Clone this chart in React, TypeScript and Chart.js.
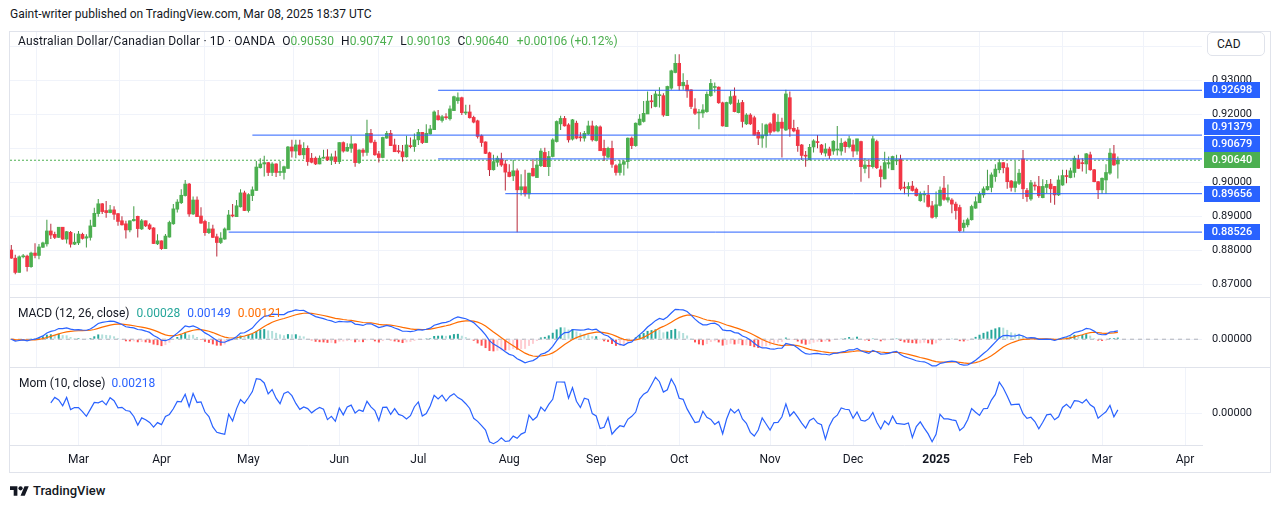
import React, { useEffect, useRef } from 'react';
import { Chart, registerables } from 'chart.js';

Chart.register(...registerables);

// ---------------- data (AUD/CAD, 1D, OANDA) ----------------
const firstDate = '2024-02-07';
const holidays = ['2024-12-25', '2025-01-01'];
const futureBars = 25;

const opens = [
  0.8800, 0.8776, 0.8734, 0.8780, 0.8782, 0.8751, 0.8791, 0.8784, 0.8808, 0.8818,
  0.8856, 0.8846, 0.8837, 0.8867, 0.8832, 0.8852, 0.8817, 0.8821, 0.8846, 0.8835,
  0.8837, 0.8869, 0.8907, 0.8936, 0.8916, 0.8910, 0.8918, 0.8907, 0.8886, 0.8877,
  0.8859, 0.8886, 0.8899, 0.8862, 0.8886, 0.8874, 0.8865, 0.8818, 0.8827, 0.8804,
  0.8838, 0.8877, 0.8920, 0.8939, 0.8960, 0.8994, 0.8906, 0.8947, 0.8900, 0.8884,
  0.8851, 0.8862, 0.8839, 0.8822, 0.8832, 0.8859, 0.8903, 0.8898, 0.8927, 0.8968,
  0.8916, 0.8960, 0.8975, 0.9042, 0.9053, 0.9057, 0.9028, 0.9053, 0.9028, 0.9028,
  0.9040, 0.9103, 0.9091, 0.9109, 0.9080, 0.9099, 0.9070, 0.9070, 0.9053, 0.9070,
  0.9074, 0.9064, 0.9074, 0.9060, 0.9116, 0.9091, 0.9099, 0.9112, 0.9057, 0.9094,
  0.9087, 0.9143, 0.9117, 0.9083, 0.9072, 0.9129, 0.9143, 0.9109, 0.9091, 0.9089,
  0.9074, 0.9107, 0.9104, 0.9124, 0.9146, 0.9116, 0.9141, 0.9154, 0.9195, 0.9181,
  0.9191, 0.9186, 0.9210, 0.9239, 0.9248, 0.9203, 0.9206, 0.9190, 0.9180, 0.9136,
  0.9118, 0.9086, 0.9036, 0.9058, 0.9068, 0.9053, 0.9029, 0.9018, 0.9033, 0.8977,
  0.8986, 0.8965, 0.9040, 0.9013, 0.9048, 0.9087, 0.9045, 0.9075, 0.9119, 0.9171,
  0.9187, 0.9168, 0.9126, 0.9173, 0.9132, 0.9129, 0.9141, 0.9165, 0.9122, 0.9162,
  0.9099, 0.9073, 0.9099, 0.9048, 0.9028, 0.9052, 0.9060, 0.9129, 0.9107, 0.9168,
  0.9178, 0.9200, 0.9238, 0.9222, 0.9254, 0.9254, 0.9195, 0.9276, 0.9322, 0.9349,
  0.9283, 0.9285, 0.9271, 0.9215, 0.9203, 0.9203, 0.9207, 0.9254, 0.9278, 0.9279,
  0.9233, 0.9163, 0.9231, 0.9253, 0.9204, 0.9234, 0.9171, 0.9197, 0.9189, 0.9146,
  0.9129, 0.9136, 0.9171, 0.9200, 0.9150, 0.9176, 0.9153, 0.9248, 0.9158, 0.9153,
  0.9109, 0.9078, 0.9065, 0.9103, 0.9118, 0.9109, 0.9085, 0.9097, 0.9091, 0.9094,
  0.9091, 0.9117, 0.9104, 0.9109, 0.9091, 0.9119, 0.9040, 0.9048, 0.9045, 0.9119,
  0.9036, 0.9009, 0.9053, 0.9036, 0.9062, 0.9067, 0.8984, 0.8980, 0.8988, 0.8979,
  0.8945, 0.8962, 0.8962, 0.8930, 0.8898, 0.8931, 0.8982, 0.8947, 0.8947, 0.8935,
  0.8925, 0.8866, 0.8874, 0.8889, 0.8923, 0.8939, 0.8962, 0.8977, 0.8984, 0.9016,
  0.9036, 0.9057, 0.9042, 0.9003, 0.8984, 0.8996, 0.9068, 0.8975, 0.8950, 0.8991,
  0.8987, 0.8954, 0.8984, 0.8994, 0.8987, 0.8962, 0.8991, 0.9019, 0.9013, 0.9028,
  0.9066, 0.9056, 0.9053, 0.9080, 0.9036, 0.9001, 0.8977, 0.9006, 0.9026, 0.9083,
  0.90530,
];
const highs = [
  0.8815, 0.8786, 0.8784, 0.8788, 0.8786, 0.8795, 0.8820, 0.8818, 0.8824, 0.8889,
  0.8877, 0.8854, 0.8867, 0.8868, 0.8856, 0.8856, 0.8849, 0.8856, 0.8851, 0.8846,
  0.8889, 0.8924, 0.8950, 0.8938, 0.8944, 0.8932, 0.8929, 0.8909, 0.8899, 0.8886,
  0.8887, 0.8929, 0.8901, 0.8891, 0.8887, 0.8879, 0.8867, 0.8846, 0.8828, 0.8847,
  0.8886, 0.8935, 0.8949, 0.8979, 0.9006, 0.8997, 0.8957, 0.8957, 0.8926, 0.8889,
  0.8882, 0.8874, 0.8848, 0.8852, 0.8866, 0.8918, 0.8935, 0.8947, 0.8979, 0.8974,
  0.8967, 0.8987, 0.9062, 0.9070, 0.9077, 0.9059, 0.9058, 0.9055, 0.9062, 0.9048,
  0.9106, 0.9124, 0.9124, 0.9124, 0.9117, 0.9107, 0.9085, 0.9075, 0.9078, 0.9095,
  0.9096, 0.9084, 0.9092, 0.9117, 0.9119, 0.9114, 0.9136, 0.9114, 0.9096, 0.9099,
  0.9183, 0.9156, 0.9124, 0.9091, 0.9133, 0.9150, 0.9153, 0.9127, 0.9109, 0.9109,
  0.9136, 0.9131, 0.9143, 0.9156, 0.9147, 0.9170, 0.9168, 0.9210, 0.9212, 0.9197,
  0.9202, 0.9225, 0.9254, 0.9263, 0.9251, 0.9227, 0.9227, 0.9195, 0.9183, 0.9140,
  0.9119, 0.9089, 0.9080, 0.9077, 0.9086, 0.9065, 0.9052, 0.9065, 0.9040, 0.9023,
  0.9036, 0.9027, 0.9067, 0.9070, 0.9099, 0.9101, 0.9091, 0.9129, 0.9181, 0.9195,
  0.9194, 0.9173, 0.9185, 0.9180, 0.9146, 0.9150, 0.9180, 0.9180, 0.9168, 0.9166,
  0.9124, 0.9104, 0.9121, 0.9052, 0.9065, 0.9065, 0.9131, 0.9134, 0.9175, 0.9199,
  0.9238, 0.9266, 0.9256, 0.9268, 0.9279, 0.9261, 0.9283, 0.9330, 0.9376, 0.9376,
  0.9320, 0.9300, 0.9273, 0.9246, 0.9215, 0.9229, 0.9266, 0.9303, 0.9293, 0.9281,
  0.9236, 0.9236, 0.9268, 0.9278, 0.9243, 0.9241, 0.9202, 0.9202, 0.9195, 0.9153,
  0.9173, 0.9171, 0.9176, 0.9204, 0.9199, 0.9189, 0.9271, 0.9266, 0.9183, 0.9162,
  0.9112, 0.9091, 0.9112, 0.9126, 0.9138, 0.9112, 0.9114, 0.9104, 0.9123, 0.9165,
  0.9129, 0.9121, 0.9136, 0.9124, 0.9127, 0.9121, 0.9070, 0.9067, 0.9136, 0.9124,
  0.9048, 0.9089, 0.9075, 0.9077, 0.9080, 0.9080, 0.9001, 0.8999, 0.9003, 0.8984,
  0.8972, 0.8974, 0.8991, 0.8944, 0.8972, 0.8987, 0.9018, 0.8993, 0.8952, 0.8942,
  0.8933, 0.8889, 0.8895, 0.8933, 0.8957, 0.8972, 0.8987, 0.9036, 0.9028, 0.9052,
  0.9067, 0.9058, 0.9055, 0.9006, 0.9062, 0.9038, 0.9094, 0.8982, 0.9006, 0.9001,
  0.9018, 0.9008, 0.9006, 0.9009, 0.8988, 0.9019, 0.9036, 0.9036, 0.9042, 0.9077,
  0.9080, 0.9070, 0.9085, 0.9089, 0.9038, 0.9003, 0.9013, 0.9052, 0.9099, 0.9109,
  0.90747,
];
const lows = [
  0.8774, 0.8729, 0.8733, 0.8776, 0.8737, 0.8748, 0.8776, 0.8773, 0.8806, 0.8810,
  0.8832, 0.8832, 0.8835, 0.8830, 0.8819, 0.8807, 0.8815, 0.8815, 0.8831, 0.8807,
  0.8828, 0.8868, 0.8898, 0.8906, 0.8895, 0.8908, 0.8889, 0.8871, 0.8872, 0.8834,
  0.8852, 0.8884, 0.8837, 0.8859, 0.8868, 0.8859, 0.8818, 0.8815, 0.8801, 0.8803,
  0.8837, 0.8874, 0.8910, 0.8935, 0.8957, 0.8898, 0.8903, 0.8897, 0.8877, 0.8842,
  0.8847, 0.8835, 0.8781, 0.8818, 0.8830, 0.8859, 0.8896, 0.8897, 0.8925, 0.8915,
  0.8910, 0.8944, 0.8974, 0.9040, 0.9016, 0.9018, 0.9018, 0.9015, 0.9018, 0.9007,
  0.9038, 0.9072, 0.9070, 0.9078, 0.9068, 0.9048, 0.9055, 0.9050, 0.9052, 0.9069,
  0.9062, 0.9050, 0.9053, 0.9053, 0.9087, 0.9089, 0.9086, 0.9045, 0.9053, 0.9075,
  0.9077, 0.9114, 0.9077, 0.9057, 0.9070, 0.9127, 0.9106, 0.9089, 0.9084, 0.9060,
  0.9072, 0.9099, 0.9089, 0.9109, 0.9112, 0.9115, 0.9140, 0.9153, 0.9181, 0.9175,
  0.9183, 0.9181, 0.9209, 0.9230, 0.9197, 0.9197, 0.9187, 0.9173, 0.9128, 0.9104,
  0.9082, 0.9018, 0.9034, 0.9045, 0.9045, 0.8975, 0.9014, 0.9003, 0.8852, 0.8960,
  0.8957, 0.8951, 0.9016, 0.9013, 0.9044, 0.9044, 0.9018, 0.9073, 0.9116, 0.9153,
  0.9163, 0.9116, 0.9122, 0.9126, 0.9119, 0.9119, 0.9138, 0.9119, 0.9119, 0.9091,
  0.9062, 0.9070, 0.9042, 0.9019, 0.9019, 0.9019, 0.9040, 0.9097, 0.9104, 0.9166,
  0.9175, 0.9200, 0.9217, 0.9220, 0.9219, 0.9192, 0.9195, 0.9271, 0.9320, 0.9269,
  0.9271, 0.9248, 0.9215, 0.9197, 0.9155, 0.9189, 0.9204, 0.9251, 0.9263, 0.9230,
  0.9163, 0.9163, 0.9227, 0.9205, 0.9202, 0.9160, 0.9168, 0.9168, 0.9136, 0.9109,
  0.9101, 0.9101, 0.9138, 0.9146, 0.9146, 0.9072, 0.9150, 0.9133, 0.9146, 0.9089,
  0.9065, 0.9045, 0.9065, 0.9087, 0.9099, 0.9080, 0.9075, 0.9068, 0.9080, 0.9078,
  0.9078, 0.9086, 0.9099, 0.9073, 0.9080, 0.9001, 0.9026, 0.9011, 0.9040, 0.9038,
  0.8984, 0.9008, 0.9040, 0.9036, 0.9050, 0.8975, 0.8964, 0.8957, 0.8972, 0.8957,
  0.8942, 0.8940, 0.8925, 0.8893, 0.8893, 0.8928, 0.8945, 0.8940, 0.8908, 0.8890,
  0.8852, 0.8854, 0.8867, 0.8887, 0.8921, 0.8938, 0.8954, 0.8975, 0.8970, 0.9001,
  0.9026, 0.9026, 0.8980, 0.8972, 0.8970, 0.8991, 0.8950, 0.8942, 0.8945, 0.8975,
  0.8954, 0.8952, 0.8967, 0.8939, 0.8933, 0.8959, 0.8989, 0.8996, 0.9011, 0.9013,
  0.9038, 0.9031, 0.9024, 0.9033, 0.8999, 0.8950, 0.8965, 0.8965, 0.9021, 0.9048,
  0.90103,
];
const closes = [
  0.8776, 0.8734, 0.8780, 0.8782, 0.8751, 0.8791, 0.8784, 0.8809, 0.8821, 0.8856,
  0.8844, 0.8837, 0.8867, 0.8832, 0.8854, 0.8817, 0.8823, 0.8847, 0.8834, 0.8839,
  0.8871, 0.8908, 0.8936, 0.8913, 0.8910, 0.8918, 0.8905, 0.8884, 0.8874, 0.8859,
  0.8886, 0.8890, 0.8863, 0.8886, 0.8871, 0.8862, 0.8819, 0.8827, 0.8804, 0.8841,
  0.8881, 0.8921, 0.8941, 0.8961, 0.8994, 0.8906, 0.8947, 0.8898, 0.8879, 0.8851,
  0.8862, 0.8837, 0.8822, 0.8835, 0.8862, 0.8903, 0.8900, 0.8930, 0.8968, 0.8916,
  0.8963, 0.8977, 0.9044, 0.9053, 0.9057, 0.9028, 0.9053, 0.9028, 0.9031, 0.9045,
  0.9103, 0.9091, 0.9109, 0.9080, 0.9099, 0.9060, 0.9058, 0.9053, 0.9070, 0.9073,
  0.9065, 0.9074, 0.9060, 0.9116, 0.9091, 0.9102, 0.9112, 0.9057, 0.9094, 0.9087,
  0.9143, 0.9117, 0.9080, 0.9072, 0.9131, 0.9143, 0.9107, 0.9089, 0.9089, 0.9074,
  0.9109, 0.9104, 0.9124, 0.9146, 0.9116, 0.9143, 0.9156, 0.9206, 0.9183, 0.9192,
  0.9189, 0.9215, 0.9251, 0.9248, 0.9204, 0.9206, 0.9189, 0.9176, 0.9134, 0.9116,
  0.9084, 0.9036, 0.9060, 0.9070, 0.9050, 0.9029, 0.9016, 0.9033, 0.8977, 0.8986,
  0.8965, 0.9026, 0.9018, 0.9050, 0.9091, 0.9045, 0.9075, 0.9124, 0.9178, 0.9187,
  0.9165, 0.9124, 0.9183, 0.9129, 0.9130, 0.9143, 0.9165, 0.9124, 0.9163, 0.9092,
  0.9078, 0.9099, 0.9052, 0.9028, 0.9053, 0.9060, 0.9129, 0.9107, 0.9173, 0.9185,
  0.9202, 0.9238, 0.9236, 0.9259, 0.9256, 0.9197, 0.9281, 0.9327, 0.9349, 0.9283,
  0.9293, 0.9268, 0.9222, 0.9202, 0.9205, 0.9212, 0.9258, 0.9290, 0.9280, 0.9233,
  0.9165, 0.9234, 0.9251, 0.9207, 0.9232, 0.9178, 0.9197, 0.9171, 0.9138, 0.9129,
  0.9138, 0.9168, 0.9146, 0.9150, 0.9176, 0.9158, 0.9259, 0.9156, 0.9150, 0.9107,
  0.9078, 0.9076, 0.9102, 0.9121, 0.9116, 0.9087, 0.9097, 0.9078, 0.9120, 0.9097,
  0.9114, 0.9104, 0.9127, 0.9091, 0.9127, 0.9045, 0.9050, 0.9046, 0.9127, 0.9042,
  0.9016, 0.9057, 0.9057, 0.9075, 0.9065, 0.8980, 0.8982, 0.8987, 0.8975, 0.8960,
  0.8964, 0.8965, 0.8928, 0.8896, 0.8933, 0.8976, 0.8949, 0.8954, 0.8935, 0.8916,
  0.8857, 0.8879, 0.8889, 0.8928, 0.8942, 0.8965, 0.8980, 0.8987, 0.9021, 0.9038,
  0.9057, 0.9042, 0.9001, 0.8984, 0.9001, 0.9026, 0.8980, 0.8957, 0.8998, 0.8988,
  0.8960, 0.8987, 0.8993, 0.8980, 0.8962, 0.9006, 0.9019, 0.9016, 0.9033, 0.9070,
  0.9040, 0.9054, 0.9083, 0.9036, 0.9001, 0.8977, 0.9011, 0.9028, 0.9085, 0.9050,
  0.90640,
];

// horizontal levels drawn on the chart (price, first bar index of the line)
const levelPrices = [0.92698, 0.91379, 0.90679, 0.89656, 0.88526];
const levelStartBars = [108, 61, 108, 125, 55];

const priceTicks = [0.87, 0.88, 0.89, 0.9, 0.91, 0.92, 0.93, 0.94];
const monthNames = ['Jan', 'Feb', 'Mar', 'Apr', 'May', 'Jun', 'Jul', 'Aug', 'Sep', 'Oct', 'Nov', 'Dec'];

const legendTitle = 'Australian Dollar/Canadian Dollar · 1D · OANDA';
const legendKeys = ['O', 'H', 'L', 'C'];
const legendVals = ['0.90530', '0.90747', '0.90103', '0.90640'];
const legendChange = '+0.00106 (+0.12%)';
const macdTitle = 'MACD (12, 26, close)';
const macdLegendVals = ['0.00028', '0.00149', '0.00121'];
const momTitle = 'Mom (10, close)';
const momLegendVal = '0.00218';

// ---------------- style / layout ----------------
const FONT = 'Roboto, "Noto Sans", sans-serif';
const TEXT = '#131722';
const GRID = '#f0f3fa';
const BORDER = '#e0e3eb';
const UP = '#4CAF50';
const DOWN = '#F23645';
const UP_WICK = '#3f9a43';
const DOWN_WICK = '#b8283a';
const BLUE = '#2962FF';
const ORANGE = '#FF6D00';
const W = 1281;
const PLOT_LEFT = 10;
const AXIS_W = 79;
const BAR_STEP = 3.952;
const FIRST_BAR_X = 11.3;
const X_MIN = -(FIRST_BAR_X - PLOT_LEFT) / BAR_STEP;
const X_MAX = X_MIN + (W - AXIS_W - PLOT_LEFT) / BAR_STEP;
const PRICE_TOP = 32, PRICE_H = 265;
const MACD_TOP = 298, MACD_H = 69;
const MOM_TOP = 368, MOM_H = 104, TIME_H = 27;
// price scale: 0.93 at y=80, 34 px per 0.01
const P_MAX = 0.93 + (80 - PRICE_TOP) / 3400;
const P_MIN = 0.93 - (PRICE_TOP + PRICE_H - 80) / 3400;

// ---------------- derived ----------------
function buildCalendar(n: number) {
  const out: Date[] = [];
  const d = new Date(firstDate + 'T00:00:00Z');
  while (out.length < n) {
    const wd = d.getUTCDay();
    const iso = d.toISOString().slice(0, 10);
    if (wd !== 0 && wd !== 6 && !holidays.includes(iso)) out.push(new Date(d.getTime()));
    d.setUTCDate(d.getUTCDate() + 1);
  }
  return out;
}
const calendar = buildCalendar(closes.length + futureBars);
const monthTicks: { index: number; label: string; bold: boolean }[] = [];
calendar.forEach((d, i) => {
  if (i === 0) return;
  if (d.getUTCMonth() !== calendar[i - 1].getUTCMonth()) {
    const m = d.getUTCMonth();
    monthTicks.push({ index: i, label: m === 0 ? String(d.getUTCFullYear()) : monthNames[m], bold: m === 0 });
  }
});
const tickLabel = new Map(monthTicks.map((t) => [t.index, t]));

function ema(src: number[], len: number) {
  const a = 2 / (len + 1);
  const out: number[] = [];
  src.forEach((v, i) => out.push(i === 0 ? v : a * v + (1 - a) * out[i - 1]));
  return out;
}
const ema12 = ema(closes, 12);
const ema26 = ema(closes, 26);
const macdLine = closes.map((_, i) => ema12[i] - ema26[i]);
const signalLine = ema(macdLine, 9);
const histValues = macdLine.map((m, i) => m - signalLine[i]);
const histColors = histValues.map((h, i) => {
  const prev = i > 0 ? histValues[i - 1] : h;
  if (h >= 0) return prev < h ? '#26A69A' : '#B2DFDB';
  return prev < h ? '#FFCDD2' : '#FF5252';
});
const momValues = closes.map((c, i) => (i >= 10 ? c - closes[i - 10] : null));

function paddedRange(vals: number[], top: number, bottom: number) {
  const lo = Math.min(...vals);
  const hi = Math.max(...vals);
  const r = hi - lo;
  return { min: lo - r * bottom, max: hi + r * top };
}
const macdRange = paddedRange([...macdLine, ...signalLine, ...histValues], 0.2, 0.02);
const momRange = paddedRange(momValues.filter((v) => v !== null) as number[], 0.14, 0.02);

// ---------------- chart configs ----------------
const tickFont = { family: FONT, size: 11 };

function xScale(labels: boolean) {
  return {
    type: 'linear',
    min: X_MIN,
    max: X_MAX,
    offset: false,
    grid: { color: GRID, drawTicks: false },
    border: { display: labels, color: BORDER },
    ticks: {
      display: labels,
      autoSkip: false,
      maxRotation: 0,
      padding: 8,
      color: TEXT,
      font: (ctx: any) => ({
        family: FONT,
        size: 12,
        weight: ctx.tick && tickLabel.get(ctx.tick.value)?.bold ? 'bold' : 'normal',
      }),
      callback: (v: any) => tickLabel.get(v)?.label ?? '',
    },
    afterBuildTicks: (s: any) => {
      s.ticks = monthTicks.map((t) => ({ value: t.index }));
    },
    afterFit: (s: any) => {
      s.height = labels ? TIME_H : 0;
      s.paddingLeft = 0;
      s.paddingRight = 0;
    },
  };
}

function yScale(min: number, max: number, ticks: number[], fmt: (v: number) => string) {
  return {
    position: 'right',
    min,
    max,
    grid: { color: GRID, drawTicks: false },
    border: { display: false },
    ticks: { padding: 10, color: TEXT, font: tickFont, callback: (v: any) => fmt(Number(v)) },
    afterBuildTicks: (s: any) => {
      s.ticks = ticks.map((v) => ({ value: v }));
    },
    afterFit: (s: any) => {
      s.width = AXIS_W;
      s.paddingTop = 0;
      s.paddingBottom = 0;
    },
  };
}

const baseOptions = {
  responsive: false,
  animation: false,
  devicePixelRatio: 1,
  events: [],
  layout: { padding: { left: PLOT_LEFT, right: 0, top: 0, bottom: 0 } },
  plugins: { legend: { display: false }, tooltip: { enabled: false } },
};

const lastClose = closes[closes.length - 1];

const priceLabelsPlugin = {
  id: 'priceLabels',
  afterDraw(chart: any) {
    const { ctx, chartArea, scales } = chart;
    const y = scales.y;
    const h = 16;
    const step = 16.6;
    const cur = { price: lastClose, color: UP, y: y.getPixelForValue(lastClose) };
    const items = levelPrices.map((p) => ({ price: p, color: BLUE, y: y.getPixelForValue(p) }));
    const above = items.filter((i) => i.y < cur.y).sort((a, b) => b.y - a.y);
    let lim = cur.y - step;
    above.forEach((it) => {
      it.y = Math.min(it.y, lim);
      lim = it.y - step;
    });
    const below = items.filter((i) => i.y >= cur.y).sort((a, b) => a.y - b.y);
    lim = cur.y + step;
    below.forEach((it) => {
      it.y = Math.max(it.y, lim);
      lim = it.y + step;
    });
    ctx.save();
    [...items, cur].forEach((it) => {
      const top = Math.round(it.y - h / 2);
      ctx.fillStyle = it.color;
      ctx.fillRect(chartArea.right + 2, top, 56, h);
      ctx.fillStyle = '#ffffff';
      ctx.font = `500 11px ${FONT}`;
      ctx.textAlign = 'center';
      ctx.textBaseline = 'middle';
      ctx.fillText(it.price.toFixed(5), chartArea.right + 30, top + h / 2 + 0.5);
    });
    ctx.restore();
  },
};

function priceConfig(): any {
  const idx = closes.map((_, i) => i);
  const isUp = idx.map((i) => closes[i] >= opens[i]);
  const datasets: any[] = [
    {
      type: 'line',
      data: [
        { x: X_MIN, y: lastClose },
        { x: X_MAX, y: lastClose },
      ],
      borderColor: UP,
      borderWidth: 1,
      borderDash: [2, 2],
      pointRadius: 0,
      order: 4,
    },
    {
      type: 'bar',
      data: idx.map((i) => ({ x: i, y: [lows[i], highs[i]] })),
      backgroundColor: idx.map((i) => (isUp[i] ? UP_WICK : DOWN_WICK)),
      borderWidth: 0,
      grouped: false,
      maxBarThickness: 1,
      order: 3,
    },
    {
      type: 'bar',
      data: idx.map((i) => ({ x: i, y: [opens[i], closes[i]] })),
      backgroundColor: idx.map((i) => (isUp[i] ? UP : DOWN)),
      borderWidth: 0,
      grouped: false,
      barPercentage: 1,
      categoryPercentage: 1,
      maxBarThickness: 3,
      minBarLength: 1,
      order: 2,
    },
    ...levelPrices.map((p, k) => ({
      type: 'line',
      data: [
        { x: levelStartBars[k], y: p },
        { x: X_MAX, y: p },
      ],
      borderColor: BLUE,
      borderWidth: 1,
      pointRadius: 0,
      order: 1,
    })),
  ];
  return {
    type: 'bar',
    data: { datasets },
    options: {
      ...baseOptions,
      scales: {
        x: xScale(false),
        y: yScale(P_MIN, P_MAX, priceTicks, (v) => (v > 0.935 ? '' : v.toFixed(5))),
      },
    },
    plugins: [priceLabelsPlugin],
  };
}

function macdConfig(): any {
  const idx = closes.map((_, i) => i);
  return {
    type: 'bar',
    data: {
      datasets: [
        {
          type: 'line',
          data: [
            { x: X_MIN, y: 0 },
            { x: X_MAX, y: 0 },
          ],
          borderColor: 'rgba(120,123,134,0.55)',
          borderWidth: 1,
          borderDash: [4, 4],
          pointRadius: 0,
          order: 4,
        },
        {
          type: 'bar',
          data: idx.map((i) => ({ x: i, y: histValues[i] })),
          backgroundColor: histColors,
          borderWidth: 0,
          grouped: false,
          maxBarThickness: 2,
          order: 3,
        },
        {
          type: 'line',
          data: idx.map((i) => ({ x: i, y: signalLine[i] })),
          borderColor: ORANGE,
          borderWidth: 1.2,
          pointRadius: 0,
          order: 2,
        },
        {
          type: 'line',
          data: idx.map((i) => ({ x: i, y: macdLine[i] })),
          borderColor: BLUE,
          borderWidth: 1.2,
          pointRadius: 0,
          order: 1,
        },
      ],
    },
    options: {
      ...baseOptions,
      scales: {
        x: xScale(false),
        y: yScale(macdRange.min, macdRange.max, [0], (v) => v.toFixed(5)),
      },
    },
  };
}

function momConfig(): any {
  const idx = closes.map((_, i) => i);
  return {
    type: 'line',
    data: {
      datasets: [
        {
          data: idx.filter((i) => momValues[i] !== null).map((i) => ({ x: i, y: momValues[i] })),
          borderColor: BLUE,
          borderWidth: 1.2,
          pointRadius: 0,
        },
      ],
    },
    options: {
      ...baseOptions,
      scales: {
        x: xScale(true),
        y: yScale(momRange.min, momRange.max, [0], (v) => v.toFixed(5)),
      },
    },
  };
}

// ---------------- component ----------------
const abs = (l: number, t: number, extra: any = {}) => ({ position: 'absolute' as const, left: l, top: t, ...extra });

function TVLogo() {
  return (
    <svg width="19" height="15" viewBox="0 0 36 28" style={{ display: 'block' }}>
      <path d="M14 22H7V11H0V4h14v18zM28 22h-8l7.5-18h8L28 22z" fill={TEXT} />
      <circle cx="20" cy="8" r="4" fill={TEXT} />
    </svg>
  );
}

export default function App() {
  const priceRef = useRef<HTMLCanvasElement>(null);
  const macdRef = useRef<HTMLCanvasElement>(null);
  const momRef = useRef<HTMLCanvasElement>(null);

  useEffect(() => {
    const charts = [
      new Chart(priceRef.current as HTMLCanvasElement, priceConfig()),
      new Chart(macdRef.current as HTMLCanvasElement, macdConfig()),
      new Chart(momRef.current as HTMLCanvasElement, momConfig()),
    ];
    return () => charts.forEach((c) => c.destroy());
  }, []);

  const textStyle = { fontFamily: FONT, fontSize: 12, lineHeight: '16px', color: TEXT, whiteSpace: 'nowrap' as const };

  return (
    <div style={{ position: 'absolute', left: 0, top: 0, width: W, height: 508, background: '#fff', overflow: 'hidden' }}>
      <canvas ref={priceRef} width={W} height={PRICE_H} style={abs(0, PRICE_TOP, { width: W, height: PRICE_H })} />
      <canvas ref={macdRef} width={W} height={MACD_H} style={abs(0, MACD_TOP, { width: W, height: MACD_H })} />
      <canvas ref={momRef} width={W} height={MOM_H} style={abs(0, MOM_TOP, { width: W, height: MOM_H })} />

      {/* pane separators and frame */}
      <div style={abs(9, 297, { width: 1262, height: 1, background: BORDER })} />
      <div style={abs(9, 367, { width: 1262, height: 1, background: BORDER })} />
      <div style={abs(9, 31, { width: 1260, height: 440, border: `1px solid ${BORDER}`, pointerEvents: 'none' })} />

      {/* header */}
      <div style={abs(10, 6, textStyle)}>Gaint-writer published on TradingView.com, Mar 08, 2025 18:37 UTC</div>

      {/* main legend */}
      <div style={abs(18, 33, { ...textStyle, display: 'flex' })}>
        <span style={{ letterSpacing: 0.15 }}>{legendTitle}</span>
        {legendKeys.map((k, i) => (
          <span key={k} style={{ marginLeft: 7 }}>
            {k}
            <span style={{ color: UP }}>{legendVals[i]}</span>
          </span>
        ))}
        <span style={{ marginLeft: 8, color: UP }}>{legendChange}</span>
      </div>

      {/* currency box */}
      <div
        style={abs(1207, 32, {
          width: 58,
          height: 24,
          border: `1px solid ${BORDER}`,
          borderRadius: 5,
          boxSizing: 'border-box',
          ...textStyle,
          lineHeight: '22px',
          paddingLeft: 9,
          background: '#fff',
        })}
      >
        CAD
      </div>

      {/* MACD legend */}
      <div style={abs(18, 305, { ...textStyle, display: 'flex' })}>
        <span>{macdTitle}</span>
        <span style={{ marginLeft: 7, color: '#26A69A' }}>{macdLegendVals[0]}</span>
        <span style={{ marginLeft: 7, color: BLUE }}>{macdLegendVals[1]}</span>
        <span style={{ marginLeft: 7, color: ORANGE }}>{macdLegendVals[2]}</span>
      </div>

      {/* Mom legend */}
      <div style={abs(19, 375, { ...textStyle, display: 'flex' })}>
        <span>{momTitle}</span>
        <span style={{ marginLeft: 6, color: BLUE }}>{momLegendVal}</span>
      </div>

      {/* footer logo */}
      <div style={abs(10, 483, { display: 'flex', alignItems: 'center' })}>
        <TVLogo />
        <span style={{ ...textStyle, fontSize: 13, fontWeight: 500, marginLeft: 4 }}>TradingView</span>
      </div>
    </div>
  );
}
